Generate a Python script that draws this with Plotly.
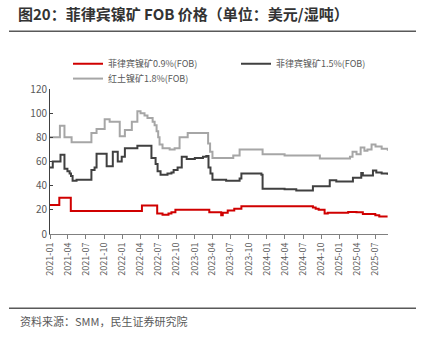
import plotly.graph_objects as go

# ---- data ----
red_dates = ["2021-01-01", "2021-02-17", "2021-04-16", "2022-04-10", "2022-06-26", "2022-07-23",
             "2022-08-22", "2022-09-06", "2022-09-26", "2023-03-16", "2023-05-15", "2023-05-23",
             "2023-06-17", "2023-07-20", "2023-08-25", "2024-08-20", "2024-09-03", "2024-09-18",
             "2024-10-18", "2024-11-03", "2025-02-14", "2025-03-28", "2025-04-29", "2025-07-01",
             "2025-07-21", "2025-09-01"]
red_vals = [24, 30, 19, 23.5, 17, 16, 17, 18, 20, 18, 15.5, 17.5,
            19.5, 21, 23, 22, 21, 20, 17, 17.5, 18.3, 18, 16.5, 15.5, 14.5, 14.5]

dark_dates = ["2021-01-01", "2021-01-15", "2021-02-23", "2021-03-15", "2021-03-30", "2021-04-10",
              "2021-04-17", "2021-04-25", "2021-05-15", "2021-07-29", "2021-08-14", "2021-08-24",
              "2021-10-14", "2021-11-14", "2021-12-09", "2021-12-29", "2022-01-14", "2022-03-18",
              "2022-05-28", "2022-06-18", "2022-06-28", "2022-07-13", "2022-08-17", "2022-09-06",
              "2022-09-17", "2022-10-07", "2022-10-28", "2022-11-22", "2023-01-02", "2023-02-12",
              "2023-03-01", "2023-03-12", "2023-03-22", "2023-04-01", "2023-06-09", "2023-08-16",
              "2023-08-25", "2023-12-04", "2023-12-10", "2024-03-30", "2024-05-28", "2024-08-20",
              "2024-11-13", "2024-12-16", "2025-03-10", "2025-04-21", "2025-04-29", "2025-06-19",
              "2025-07-06", "2025-08-02", "2025-09-01"]
dark_vals = [55, 60, 65.5, 54, 52, 50, 48, 44, 45, 53, 55, 66.5,
             56, 68, 60, 64, 71, 73, 63, 58, 52, 49, 50, 51,
             53, 55, 64, 62, 63, 64, 64.5, 55, 50, 45, 44, 46,
             50, 49, 37.5, 37, 36, 39.5, 44.5, 43.5, 46.5, 50.5, 48.5, 52.5,
             51, 50, 49]

grey_dates = ["2021-01-01", "2021-02-20", "2021-03-15", "2021-04-20", "2021-07-29", "2021-08-24",
              "2021-10-04", "2021-10-29", "2021-12-19", "2022-01-14", "2022-02-18", "2022-03-18",
              "2022-04-03", "2022-04-23", "2022-05-08", "2022-06-03", "2022-06-13", "2022-06-23",
              "2022-07-01", "2022-07-08", "2022-07-23", "2022-08-28", "2022-09-22", "2022-10-17",
              "2022-11-27", "2023-03-10", "2023-03-20", "2023-04-01", "2023-07-15", "2023-08-16",
              "2023-12-10", "2024-03-30", "2024-09-24", "2025-02-23", "2025-03-08", "2025-03-28",
              "2025-04-18", "2025-05-07", "2025-05-22", "2025-06-12", "2025-07-02", "2025-08-02",
              "2025-09-02"]
grey_vals = [80, 89.5, 80, 76, 83.5, 87, 95, 93, 81, 86, 93, 101.5,
             100, 98, 96, 93, 90, 85, 80, 74, 71, 70, 71, 80,
             83.5, 75, 68, 63, 65, 70, 66, 65, 62.5, 64, 68, 66,
             71.5, 69, 70, 74, 72.5, 70.5, 69]

series_names = ["菲律宾镍矿0.9%(FOB)", "菲律宾镍矿1.5%(FOB)", "红土镍矿1.8%(FOB)"]
y_ticks = [0, 20, 40, 60, 80, 100, 120]

title_text = "图20：菲律宾镍矿 FOB 价格（单位：美元/湿吨）"
source_text = "资料来源：SMM，民生证券研究院"

FONT = "Noto Sans CJK SC"
W, H = 422, 337
L, R, T, B = 50, 34, 89, 102.5
ph = H - T - B
pw = W - L - R

def py(ypx):
    return 1 + (T - ypx) / ph

def px(xpx):
    return (xpx - L) / pw

fig = go.Figure()
for d, v, name, col, lg in [(red_dates, red_vals, series_names[0], "#d00000", "legend"),
                            (dark_dates, dark_vals, series_names[1], "#404040", "legend2"),
                            (grey_dates, grey_vals, series_names[2], "#a6a6a6", "legend3")]:
    fig.add_trace(go.Scatter(x=d, y=v, name=name, mode="lines", line_shape="hv",
                             line=dict(color=col, width=2), legend=lg))

leg_common = dict(orientation="v", yanchor="top", xanchor="left", itemwidth=30,
                  font=dict(size=9, color="#595959"), tracegroupgap=0,
                  bgcolor="rgba(0,0,0,0)", borderwidth=0)

fig.update_layout(
    width=W, height=H,
    margin=dict(l=L, r=R, t=T, b=B, autoexpand=False),
    paper_bgcolor="white", plot_bgcolor="white",
    font=dict(family=FONT, size=9, color="#595959"),
    showlegend=True,
    legend=dict(x=px(68), y=py(49), **leg_common),
    legend2=dict(x=px(236), y=py(49), **leg_common),
    legend3=dict(x=px(68), y=py(64), **leg_common),
    title=dict(text="<b>" + title_text + "</b>", xref="container", yref="container",
               x=18 / W, y=1 - 15 / H, xanchor="left", yanchor="middle",
               font=dict(family=FONT, size=15, color="#333333")),
)
fig.update_xaxes(range=["2021-01-01", "2025-09-03"], tickformat="%Y-%m", dtick="M3",
                 tick0="2021-01-01", tickangle=-90, ticks="outside", ticklen=4,
                 tickcolor="#808080", showline=True, linecolor="#808080", linewidth=1,
                 showgrid=False, zeroline=False, tickfont=dict(size=9, color="#595959"))
fig.update_yaxes(range=[0, 120], tickvals=y_ticks, ticks="inside", ticklen=3,
                 tickcolor="#404040", showline=True, linecolor="#404040", linewidth=1,
                 showgrid=False, zeroline=False, tickfont=dict(size=10, color="#595959"))

fig.add_shape(type="line", xref="paper", yref="paper", x0=px(9), x1=px(416), y0=py(31), y1=py(31),
              line=dict(color="#595959", width=1.5))
fig.add_shape(type="line", xref="paper", yref="paper", x0=px(9), x1=px(416), y0=py(309), y1=py(309),
              line=dict(color="#595959", width=1.5))
fig.add_annotation(text=source_text, xref="paper", yref="paper", x=px(18), y=py(322),
                   xanchor="left", yanchor="middle", showarrow=False,
                   font=dict(family=FONT, size=11, color="#595959"))

fig.write_html("out.html")
